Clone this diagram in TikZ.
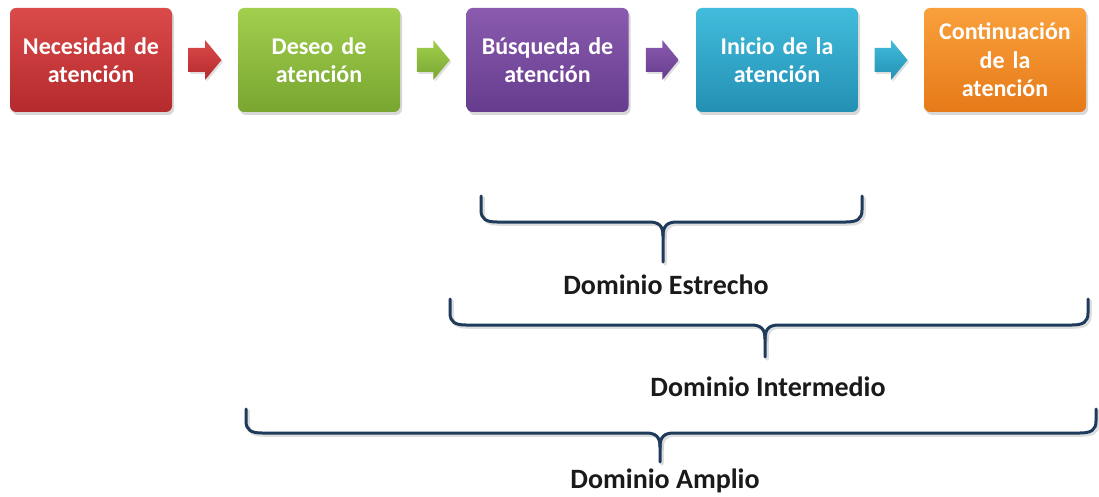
\documentclass[tikz,border=0pt]{standalone}
\usepackage{fontspec}
\setmainfont{Carlito}
\usetikzlibrary{shadows,calc}
\definecolor{redT}{HTML}{DA4A4A}\definecolor{redB}{HTML}{B52A2D}
\definecolor{grnT}{HTML}{A2CF4E}\definecolor{grnB}{HTML}{78A630}
\definecolor{purT}{HTML}{8A5BAE}\definecolor{purB}{HTML}{663C8E}
\definecolor{cyaT}{HTML}{42BCDC}\definecolor{cyaB}{HTML}{2390B4}
\definecolor{ornT}{HTML}{F9A03C}\definecolor{ornB}{HTML}{E67A18}
\definecolor{bracecol}{HTML}{1F3B5C}
\definecolor{labelcol}{HTML}{1A1A1A}
\tikzset{
  box/.style={rounded corners=6pt, minimum width=162pt, minimum height=104pt,
    text width=150pt, align=center, text=white, inner sep=0pt,
    font=\bfseries\fontsize{24}{28.5}\selectfont,
    drop shadow={opacity=0.3, shadow xshift=2pt, shadow yshift=-3pt}},
  arrowshape/.style={drop shadow={opacity=0.25, shadow xshift=1.5pt, shadow yshift=-2pt}},
  brace/.style={draw=bracecol, line width=3pt, line cap=round, line join=round},
  braceshadow/.style={draw=black!25, line width=3.5pt, line cap=round, line join=round, opacity=0.5},
  lbl/.style={font=\bfseries\fontsize{28}{34}\selectfont, text=labelcol, inner sep=0pt, anchor=base}
}
\newcommand\blockarrow[4]{%
  \path[arrowshape, top color=#3, bottom color=#4, shift={($(#1.east)!0.5!(#2.west)$)}]
    (-16.5,-12) -- (0,-12) -- (0,-20) -- (16.5,0) -- (0,20) -- (0,12) -- (-16.5,12) -- cycle;}
% x1 x2 xc ytop yh ybot
\newcommand\bracepath[7]{%
  \draw[#7] (#1,#4) -- (#1,#5-12) .. controls (#1,#5-3) and (#1+5,#5) .. (#1+16,#5)
    -- (#3-14,#5) .. controls (#3-4,#5) and (#3,#5+4) .. (#3,#5+14) -- (#3,#6);
  \draw[#7] (#2,#4) -- (#2,#5-12) .. controls (#2,#5-3) and (#2-5,#5) .. (#2-16,#5)
    -- (#3+14,#5) .. controls (#3+4,#5) and (#3,#5+4) .. (#3,#5+14);}
\newcommand\domainbrace[6]{%
  \begin{scope}[shift={(2,2)}]\bracepath{#1}{#2}{#3}{#4}{#5}{#6}{braceshadow}\end{scope}
  \bracepath{#1}{#2}{#3}{#4}{#5}{#6}{brace}}
\begin{document}
\begin{tikzpicture}[x=1pt,y=-1pt]
\useasboundingbox[fill=white] (0,0) rectangle (1099,497);
\node[box, top color=redT, bottom color=redB] (b1) at (91,60) {Necesidad de\\atención};
\node[box, top color=grnT, bottom color=grnB] (b2) at (319,60) {Deseo de\\atención};
\node[box, top color=purT, bottom color=purB] (b3) at (547.5,60) {Búsqueda de\\atención};
\node[box, top color=cyaT, bottom color=cyaB] (b4) at (777,60) {Inicio de la\\atención};
\node[box, top color=ornT, bottom color=ornB] (b5) at (1005,60) {Continuación\\de la\\atención};
\blockarrow{b1}{b2}{redT}{redB}
\blockarrow{b2}{b3}{grnT}{grnB}
\blockarrow{b3}{b4}{purT}{purB}
\blockarrow{b4}{b5}{cyaT}{cyaB}
\domainbrace{481}{862}{663}{196}{222}{262}
\node[lbl] (d1) at (666,294) {Dominio Estrecho};
\domainbrace{450}{1088}{765}{299}{325}{357}
\node[lbl] (d2) at (768,396) {Dominio Intermedio};
\domainbrace{246}{1096}{660}{409}{433}{462}
\node[lbl] (d3) at (665,488) {Dominio Amplio};
\end{tikzpicture}
\end{document}
